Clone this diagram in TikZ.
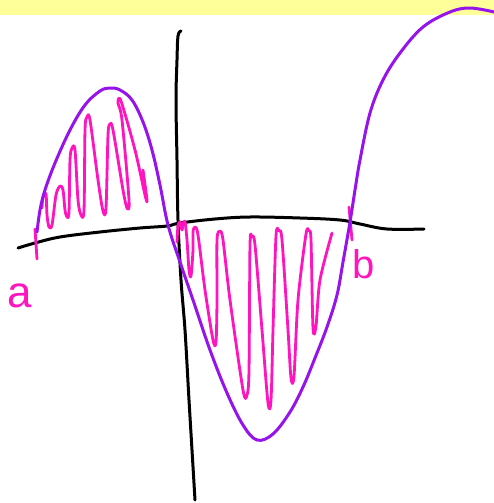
\documentclass[tikz,border=0pt]{standalone}
\usepackage{fontspec}
\setmainfont{Liberation Sans}
\definecolor{band}{RGB}{255,255,153}
\definecolor{curvepurple}{RGB}{150,20,235}
\definecolor{hatchpink}{RGB}{255,20,190}
\tikzset{
  axisline/.style={black, line width=3pt, line cap=round, line join=round},
  curveline/.style={curvepurple, line width=3pt, line cap=round, line join=round},
  hatchline/.style={hatchpink, line width=2.8pt, line cap=round, line join=round},
  lbl/.style={hatchpink, inner sep=0pt}
}
\begin{document}
\begin{tikzpicture}[x=1pt,y=-1pt]
\useasboundingbox (0,0) rectangle (494,503);
\fill[band] (0,0) rectangle (494,15);
% axes
\draw[axisline] plot[smooth, tension=0.6] coordinates {(18,248) (35,243) (60,237) (100,232) (140,228) (167,226) (180,223) (215,219) (250,217) (300,218) (340,220) (360,224) (387,229) (424,229)};
\draw[axisline] plot[smooth, tension=0.6] coordinates {(181,31) (178,36) (177,60) (176,100) (177,160) (178,220) (181,280) (185,330) (189,400) (192,450) (195,500)};
% hatching
\draw[hatchline] plot[smooth, tension=0.5] coordinates {(42,208) (43,197) (46,194) (47,215) (49,227) (52,225) (56,195) (60,186) (63,190) (65,210) (67,217) (69,212) (70,160) (72,148) (75,150) (78,200) (81,215) (84,210) (85,130) (87,117) (90,120) (98,180) (103,211) (106,208) (108,135) (110,124) (113,130) (123,190) (127,208) (129,200) (122,120) (118,103) (121,101) (135,150) (145,195) (147,200) (143,170)};
\draw[hatchline] plot[smooth, tension=0.5] coordinates {(177,242) (178,226) (180,222) (182,230) (183,224) (185,222) (187,240) (189,270) (191,276) (193,250) (193,232) (195,227) (198,235) (205,290) (213,340) (216,342) (217,300) (217,240) (220,231) (223,240) (230,300) (243,390) (247,395) (249,370) (250,245) (252,237) (255,245) (262,330) (268,403) (271,400) (273,330) (276,236) (279,231) (282,240) (288,330) (291,378) (294,376) (298,300) (306,234) (309,231) (311,240) (313,328) (316,326) (320,280) (332,233)};
% ticks
\draw[hatchline] (35,229) -- (37,259);
\draw[hatchline] (349,207) -- (352,240);
% curve
\draw[curveline] plot[smooth, tension=0.6] coordinates {(37,232) (40,210) (45,190) (55,163) (70,130) (85,105) (100,91) (110,88) (120,90) (132,100) (143,122) (152,150) (160,185) (168,225) (180,262) (193,300) (210,350) (227,393) (243,425) (257,440) (273,434) (290,412) (303,387) (315,358) (327,327) (337,295) (343,262) (350,222) (355,190) (360,160) (370,113) (383,80) (400,53) (423,27) (450,12) (470,8) (494,12)};
% labels
\node[lbl, font=\fontsize{44}{44}\selectfont, anchor=base] (la) at (20,307) {a};
\node[lbl, font=\fontsize{40}{40}\selectfont, anchor=base] (lb) at (364,278) {b};
\end{tikzpicture}
\end{document}
